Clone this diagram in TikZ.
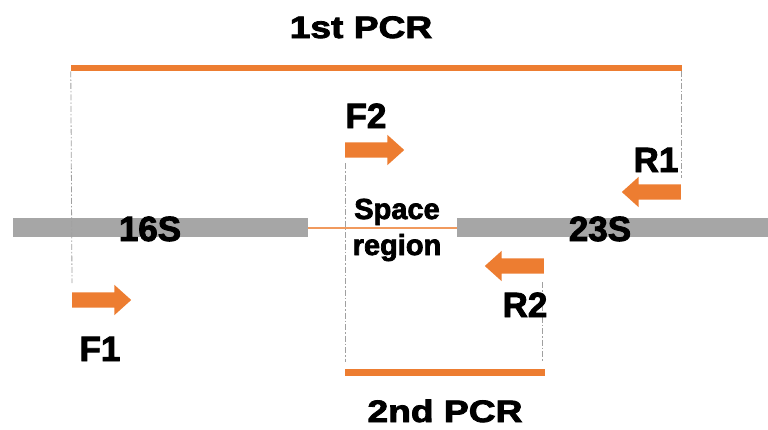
\documentclass[tikz,border=0pt]{standalone}
\usepackage{fontspec}
\setmainfont{Liberation Sans}[BoldFeatures={FakeBold=2.5}]
\usetikzlibrary{shapes.arrows}
\definecolor{pcrorange}{HTML}{ED7D31}
\definecolor{linkorange}{HTML}{F19A5E}
\definecolor{genegray}{HTML}{A6A6A6}
\definecolor{dashgray}{HTML}{A0A0A0}
\begin{document}
\begin{tikzpicture}[x=1pt,y=-1pt,
  gene/.style={rectangle, fill=genegray, inner sep=0pt, minimum height=19pt},
  pcrbar/.style={rectangle, fill=pcrorange, inner sep=0pt, minimum height=6.5pt},
  linkbar/.style={rectangle, fill=linkorange, inner sep=0pt, minimum height=2pt},
  primer/.style={single arrow, fill=pcrorange, inner sep=7.5pt, minimum height=59pt,
    minimum width=30pt, single arrow head extend=7.5pt, single arrow tip angle=84, anchor=tail},
  primerL/.style={primer, shape border rotate=180},
  guide/.style={draw=dashgray, line width=0.8pt, dash pattern=on 6pt off 2pt on 1.5pt off 2pt},
  big/.style={font=\fontsize{35}{40}\selectfont\bfseries, inner sep=0pt, anchor=base},
  pcrlbl/.style={font=\fontsize{31}{36}\selectfont\bfseries, inner sep=0pt, anchor=base},
  mid/.style={font=\fontsize{29}{36}\selectfont\bfseries, inner sep=0pt, anchor=base}]
\useasboundingbox (0,0) rectangle (768,429);
% genes
\node[gene, minimum width=295pt] (g16) at (160.5,227.5) {};
\node[gene, minimum width=311pt] (g23) at (612.5,227.5) {};
\node[linkbar, minimum width=149pt] (link) at (382.5,228) {};
% PCR bars
\node[pcrbar, minimum width=611pt] (pcr1) at (376.5,68) {};
\node[pcrbar, minimum width=200pt] (pcr2) at (445,372.5) {};
% primers
\node[primer]  (f1a) at (72,300) {};
\node[primer]  (f2a) at (345,150) {};
\node[primerL] (r1a) at (681,192) {};
\node[primerL] (r2a) at (544,266) {};
% guide ends
\coordinate (d1) at (72,283);
\coordinate (d2t) at (681,71);
\coordinate (d2b) at (681,178);
\coordinate (d3t) at (345,163);
\coordinate (d4t) at (542,282);
\coordinate (d4b) at (542,362);
\coordinate (d3b) at (345,362);
\draw[guide] (pcr1.south west) -- (d1);
\draw[guide] (d2t) -- (d2b);
\draw[guide] (d3t) -- (d3b);
\draw[guide] (d4t) -- (d4b);
% labels
\node[pcrlbl] (t1) at (361,38) {\scalebox{1.2}[1]{1st PCR}};
\node[pcrlbl] (t2) at (445,422) {\scalebox{1.2}[1]{2nd PCR}};
\node[big] (t16) at (150,241) {16S};
\node[big] (t23) at (600,241) {23S};
\node[big] (tf1) at (100,361) {F1};
\node[big] (tf2) at (366,128) {F2};
\node[big] (tr1) at (656,172) {R1};
\node[big] (tr2) at (525,317) {R2};
\node[mid] (sp1) at (397,219) {Space};
\node[mid] (sp2) at (397,255) {region};
\end{tikzpicture}
\end{document}
